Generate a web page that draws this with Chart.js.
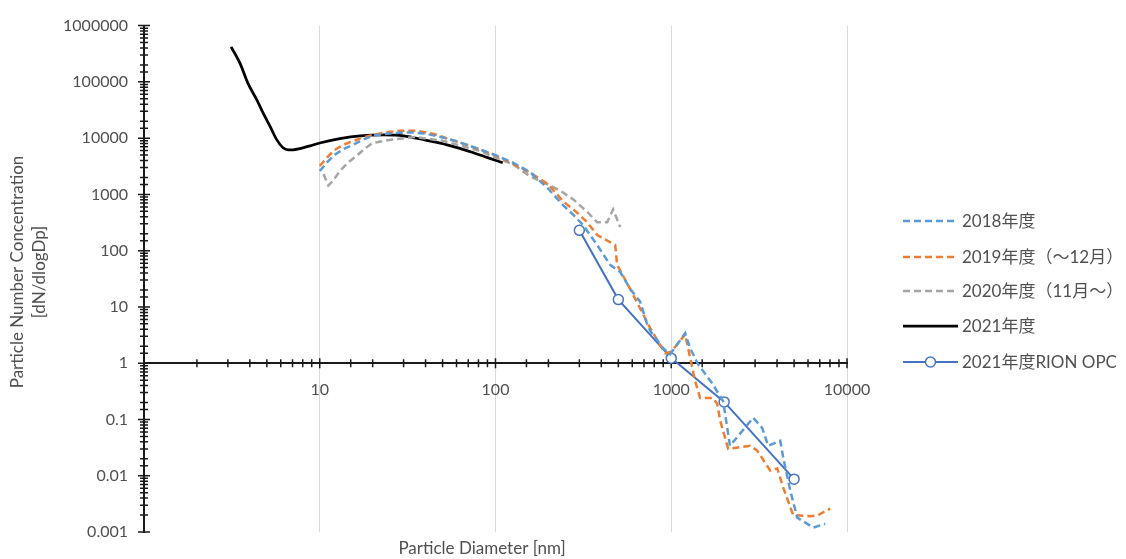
<!DOCTYPE html>
<html>
<head>
<meta charset="utf-8">
<script src="https://cdn.jsdelivr.net/npm/chart.js@4.4.1/dist/chart.umd.min.js"></script>
<style>
  html, body { margin: 0; padding: 0; background: #fff; }
  #wrap { width: 1126px; height: 559px; position: relative; }
</style>
</head>
<body>
<div id="wrap"><canvas id="c" width="1126" height="559"></canvas></div>
<script>
// ---- data ----
const seriesLabels = ['2018年度', '2019年度（～12月）', '2020年度（11月～）', '2021年度', '2021年度RION OPC'];

const d2018 = [10, 11, 12, 13.5, 15.5, 17.5, 20, 24, 28.6, 34, 40, 50, 60, 75, 100, 125, 157, 200, 243, 280, 315, 379, 449, 512, 583, 665, 729, 762, 900, 986, 1200, 1282, 1420, 1700, 1975, 2158, 2925, 3290, 3563, 4170, 4335, 4753, 5210, 6425, 7515];
const v2018 = [2600, 3700, 4900, 6300, 7600, 9300, 11000, 12000, 12500, 12600, 12000, 10300, 8800, 6900, 5000, 3700, 2500, 1250, 640, 420, 285, 126, 56, 42, 21, 12.4, 4.9, 3.7, 1.84, 1.44, 3.4, 1.84, 0.96, 0.45, 0.21, 0.034, 0.107, 0.071, 0.034, 0.042, 0.021, 0.0055, 0.0018, 0.0012, 0.0014];

const d2019 = [10, 11, 12, 13.5, 15.5, 17.5, 20, 24, 28.6, 36, 44, 55, 69, 85, 102, 125, 157, 200, 243, 290, 332, 379, 480, 492, 583, 762, 923, 1000, 1200, 1368, 1460, 1730, 1825, 1900, 2108, 2812, 3083, 3655, 4008, 4335, 4943, 6170, 6850, 8020];
const v2019 = [3200, 4500, 6000, 7500, 8900, 10200, 11400, 12700, 13500, 13500, 12000, 9500, 7600, 6000, 4800, 3500, 2450, 1500, 750, 480, 320, 190, 126, 56, 21, 4.1, 1.5, 1.6, 3.25, 0.48, 0.24, 0.24, 0.19, 0.095, 0.030, 0.034, 0.028, 0.0124, 0.0135, 0.0062, 0.002, 0.0019, 0.002, 0.0026];

const d2020 = [10.5, 11.2, 12, 13, 14.5, 16.3, 18, 20, 25, 35, 50, 80, 126, 157, 205, 240, 277, 330, 379, 432, 467, 492, 512];
const v2020 = [2300, 1440, 1800, 2600, 3700, 4900, 6500, 8200, 9300, 10500, 9000, 6000, 3400, 2100, 1440, 1100, 815, 500, 320, 320, 543, 360, 262];

const d2021 = [3.13, 3.52, 3.9, 4.4, 4.76, 5.2, 5.7, 6.18, 6.6, 7.05, 7.7, 8.8, 10, 13, 17, 23, 30, 40, 53, 75, 90, 110];
const v2021 = [420000, 213000, 95000, 47000, 28000, 16500, 9300, 6750, 6200, 6200, 6500, 7300, 8200, 9800, 11000, 11400, 11000, 9200, 7600, 5500, 4500, 3650];

const dOPC = [300, 500, 1000, 2000, 5000];
const vOPC = [230, 13.5, 1.23, 0.205, 0.0087];

const xTickLabels = ['10', '100', '1000', '10000'];
const yTickLabels = ['0.001', '0.01', '0.1', '1', '10', '100', '1000', '10000', '100000', '1000000'];

const xTitle = 'Particle Diameter [nm]';
const yTitle = ['Particle Number Concentration', '[dN/dlogDp]'];

// ---- helpers ----
const zip = (xs, ys) => xs.map((x, i) => ({ x: x, y: ys[i] }));
const isDecade = v => Math.abs(Math.log10(v) - Math.round(Math.log10(v))) < 1e-6;
const decadeLabel = (v, list) => {
  if (!isDecade(v)) return '';
  const s = String(Number(Math.pow(10, Math.round(Math.log10(v))).toPrecision(1)));
  return list.includes(s) ? s : '';
};

const FONT = "Lato, 'Noto Sans CJK JP', sans-serif";
const TXT = '#505050';
Chart.defaults.font.family = FONT;
Chart.defaults.color = TXT;

const decor = {
  id: 'decor',
  beforeDatasetsDraw(chart) {
    const ctx = chart.ctx;
    const xs = chart.scales.x, ys = chart.scales.y;
    const axisY = ys.getPixelForValue(1);
    const axisX = chart.chartArea.left;
    ctx.save();
    ctx.strokeStyle = '#1a1a1a';
    ctx.lineWidth = 1.5;
    ctx.beginPath();
    xs.ticks.forEach(t => {
      if (t.value <= 1) return;
      const p = xs.getPixelForValue(t.value);
      const h = isDecade(t.value) ? 5 : 4;
      ctx.moveTo(p, axisY - h); ctx.lineTo(p, axisY + h);
    });
    ys.ticks.forEach(t => {
      const p = ys.getPixelForValue(t.value);
      const h = isDecade(t.value) ? 6 : 4;
      ctx.moveTo(axisX - h, p); ctx.lineTo(axisX + h, p);
    });
    ctx.stroke();
    ctx.restore();
  },
  afterDraw(chart) {
    const ctx = chart.ctx;
    ctx.save();
    ctx.fillStyle = TXT;
    // axis titles
    ctx.font = '17px ' + FONT;
    ctx.textAlign = 'center';
    ctx.textBaseline = 'middle';
    ctx.fillText(xTitle, 482, 549);
    ctx.save();
    ctx.translate(18, 272);
    ctx.rotate(-Math.PI / 2);
    ctx.fillText(yTitle[0], 0, 0);
    ctx.fillText(yTitle[1], 0, 22);
    ctx.restore();
    // legend
    const rows = [221, 257, 291, 326, 362];
    ctx.font = '17px ' + FONT;
    ctx.textAlign = 'left';
    chart.data.datasets.forEach((ds, i) => {
      const y = rows[i];
      ctx.save();
      ctx.strokeStyle = ds.borderColor;
      ctx.lineWidth = ds.borderWidth;
      ctx.setLineDash(ds.borderDash || []);
      ctx.beginPath();
      ctx.moveTo(903, y); ctx.lineTo(958, y);
      ctx.stroke();
      if (ds.pointRadius > 0) {
        ctx.setLineDash([]);
        ctx.fillStyle = ds.pointBackgroundColor;
        ctx.lineWidth = ds.pointBorderWidth;
        ctx.beginPath();
        ctx.arc(930.5, y, ds.pointRadius, 0, Math.PI * 2);
        ctx.fill(); ctx.stroke();
      }
      ctx.restore();
      ctx.fillStyle = TXT;
      ctx.fillText(ds.label, 962, y + 1);
    });
    ctx.restore();
  }
};

const dashed = (label, color, xs, ys) => ({
  label, data: zip(xs, ys), borderColor: color, borderWidth: 2.5, borderDash: [7, 4],
  pointRadius: 0, pointHoverRadius: 0, tension: 0, fill: false
});

new Chart(document.getElementById('c'), {
  type: 'line',
  data: {
    datasets: [
      dashed(seriesLabels[0], '#5B9BD5', d2018, v2018),
      dashed(seriesLabels[1], '#ED7D31', d2019, v2019),
      dashed(seriesLabels[2], '#A5A5A5', d2020, v2020),
      { label: seriesLabels[3], data: zip(d2021, v2021), borderColor: '#000000', borderWidth: 2.75,
        pointRadius: 0, pointHoverRadius: 0, cubicInterpolationMode: 'monotone', fill: false },
      { label: seriesLabels[4], data: zip(dOPC, vOPC), borderColor: '#4472C4', borderWidth: 2,
        pointRadius: 5, pointHoverRadius: 5, pointBackgroundColor: '#ffffff', pointBorderColor: '#4472C4',
        pointBorderWidth: 1.5, tension: 0, fill: false }
    ]
  },
  options: {
    responsive: false,
    animation: false,
    events: [],
    layout: { padding: { left: 0, top: 22, right: 279, bottom: 27 } },
    plugins: { legend: { display: false }, tooltip: { enabled: false }, title: { display: false } },
    scales: {
      x: {
        type: 'logarithmic', min: 1, max: 10000,
        position: { y: 1 },
        border: { display: true, color: '#1a1a1a', width: 2 },
        grid: {
          drawTicks: false,
          lineWidth: 1,
          color: c => (c.tick && c.tick.value > 1 && isDecade(c.tick.value)) ? '#d9d9d9' : 'rgba(0,0,0,0)'
        },
        ticks: {
          autoSkip: false, maxRotation: 0, padding: 17,
          font: { size: 16 }, color: TXT,
          callback: v => decadeLabel(v, xTickLabels)
        }
      },
      y: {
        type: 'logarithmic', min: 0.001, max: 1000000,
        position: 'left',
        border: { display: true, color: '#1a1a1a', width: 2 },
        grid: { drawTicks: false, color: 'rgba(0,0,0,0)' },
        ticks: {
          autoSkip: false, padding: 16,
          font: { size: 16 }, color: TXT,
          callback: v => decadeLabel(v, yTickLabels)
        },
        afterFit: s => { s.width = 144; }
      }
    }
  },
  plugins: [decor]
});
</script>
</body>
</html>
